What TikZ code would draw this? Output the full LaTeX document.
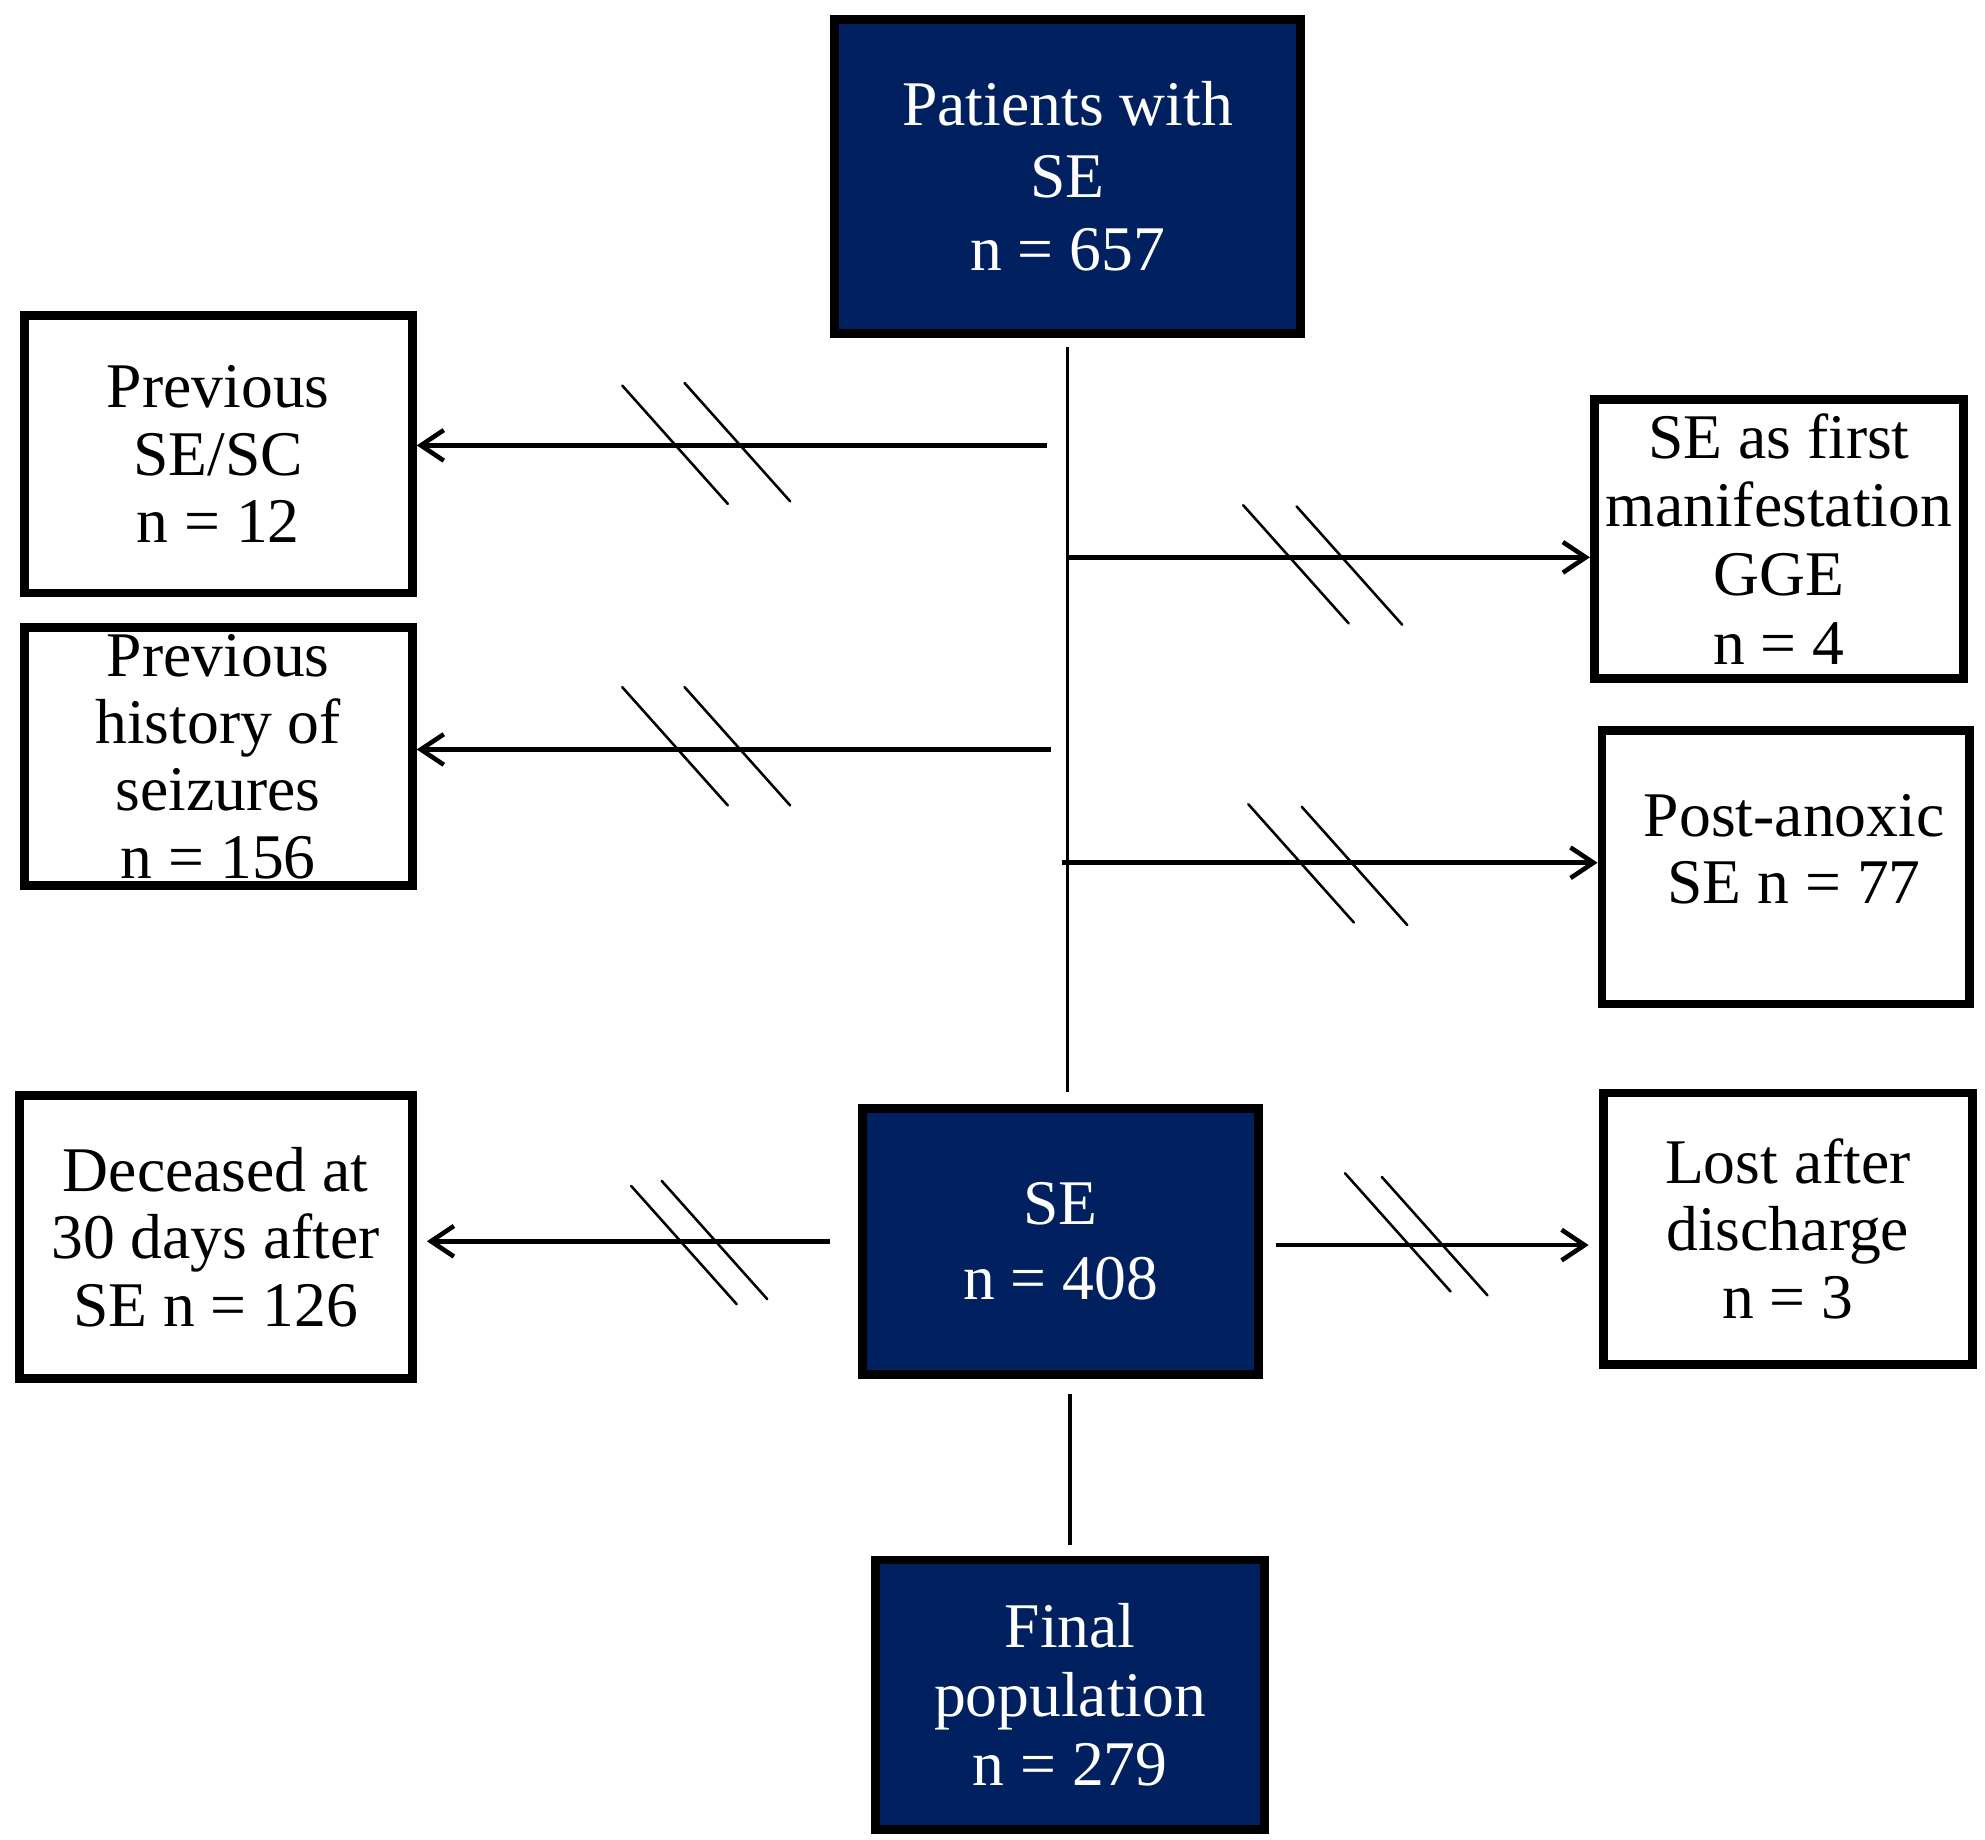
\documentclass[tikz,border=0pt]{standalone}
\usepackage{fontspec}
\setmainfont{Liberation Serif}
\usetikzlibrary{arrows.meta}

\definecolor{navy}{RGB}{0,32,96}

\tikzset{every picture/.style={line width=0.75pt}}
\tikzset{
  darkbox/.style={draw=black, line width=3.5pt, fill=navy, text=white, align=center, inner sep=0pt, font=\fontsize{25}{28.5}\selectfont},
  whitebox/.style={draw=black, line width=3.5pt, fill=white, align=center, inner sep=0pt, font=\fontsize{25}{26.5}\selectfont},
  boxtext/.style={align=center, inner sep=0pt, font=\fontsize{25}{26.5}\selectfont},
  flow/.style={line width=1.8pt, -{Straight Barb[length=9pt,width=12pt]}},
  trunk/.style={line width=1.3pt},
  slash/.style={line width=1pt, line cap=round},
}

\begin{document}
\begin{tikzpicture}[x=0.5pt,y=0.5pt,yscale=-1,xscale=1]
                  \path[use as bounding box, fill=white] (0,0) rectangle (1560,1446);

                  %Shape: Rectangle [patients]
                  \node[darkbox, minimum width=183pt, minimum height=123.5pt] (patients) at (839,138.5) {Patients with\\SE\\n = 657};
                  %Shape: Rectangle [previous SE/SC]
                  \node[whitebox, minimum width=152.5pt, minimum height=109pt] (prevse) at (171.5,357) {Previous\\SE/SC\\n = 12};
                  %Shape: Rectangle [previous history]
                  \node[whitebox, minimum width=152.5pt, minimum height=101.5pt] (prevhist) at (171.5,594.5) {Previous\\history of\\seizures\\n = 156};
                  %Shape: Rectangle [first manifestation]
                  \node[whitebox, minimum width=145pt, minimum height=109.5pt, font=\fontsize{25}{27}\selectfont] (firstgge) at (1398,423.5) {SE as first\\manifestation\\GGE\\n = 4};
                  %Shape: Rectangle [post-anoxic]
                  \node[whitebox, minimum width=144.5pt, minimum height=107.5pt] (anoxic) at (1403.5,681.5) {};
                  % Text Node
                  \node[boxtext] (anoxictext) at (1410,667.5) {Post-anoxic\\SE n = 77};
                  %Shape: Rectangle [deceased]
                  \node[whitebox, minimum width=154.5pt, minimum height=111pt] (deceased) at (169.5,972) {Deceased at\\30 days after\\SE n = 126};
                  %Shape: Rectangle [SE]
                  \node[darkbox, minimum width=155.5pt, minimum height=104.5pt, font=\fontsize{25}{29.5}\selectfont] (se) at (833.5,975.5) {SE\\n = 408};
                  %Shape: Rectangle [lost]
                  \node[whitebox, minimum width=145pt, minimum height=106.5pt] (lost) at (1405,965.5) {Lost after\\discharge\\n = 3};
                  %Shape: Rectangle [final]
                  \node[darkbox, minimum width=153pt, minimum height=106pt, font=\fontsize{25}{27}\selectfont] (final) at (841,1332) {Final\\population\\n = 279};

                  %Branch points on the trunk
                  \coordinate (trunkend) at (839,858);
                  \coordinate (b1) at (823,350);
                  \coordinate (b2) at (839,438);
                  \coordinate (b3) at (826,589);
                  \coordinate (b4) at (835,678);

                  %Straight Lines [trunk]
                  \draw[trunk, shorten <=3.5pt] (patients.south) -- (trunkend);
                  %Straight Lines [exclusions]
                  \draw[flow] (b1) -- (b1 -| prevse.east);
                  \draw[flow] (b2) -- (b2 -| firstgge.west);
                  \draw[flow] (b3) -- (b3 -| prevhist.east);
                  \draw[flow] (b4) -- (b4 -| anoxic.west);
                  \draw[flow, shorten <=11pt, shorten >=4pt] (se.west) -- (se.west -| deceased.east);
                  \draw[flow, shorten <=5pt, shorten >=4pt] ([yshift=1.5pt]se.east) -- ([yshift=1.5pt]se.east -| lost.west);
                  %Straight Lines [to final]
                  \draw[trunk, shorten <=6pt, shorten >=4pt] (se.south -| final.north) -- (final.north);

                  %Straight Lines [break marks]
                  \foreach \sx/\sy in {489/303, 538/301, 977/397, 1019/398, 489/540, 538/540, 981/632, 1023/634, 496/932, 520/928, 1057/922, 1086/925}
                    \draw[slash] (\sx,\sy) -- ++(83,93);

              \end{tikzpicture}
\end{document}
